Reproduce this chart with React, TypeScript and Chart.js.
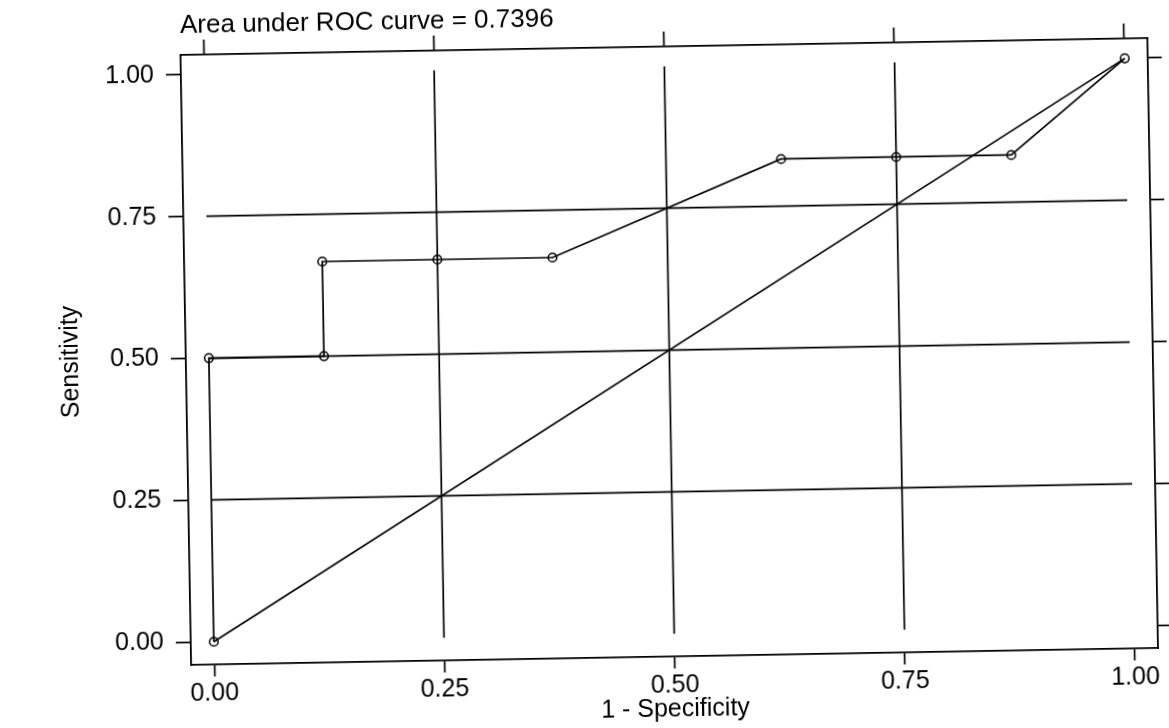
import { useEffect, useRef } from 'react';
import { Chart, registerables } from 'chart.js';

Chart.register(...registerables);

// ROC curve points (1 - specificity, sensitivity)
const oneMinusSpecificity = [0, 0, 0.125, 0.125, 0.25, 0.375, 0.625, 0.75, 0.875, 1];
const sensitivity = [0, 0.5, 0.5, 0.6667, 0.6667, 0.6667, 0.8333, 0.8333, 0.8333, 1];
// reference diagonal
const diagonalX = [0, 1];
const diagonalY = [0, 1];
// axis ticks and grid positions
const tickValues = [0, 0.25, 0.5, 0.75, 1];
const gridValues = [0.25, 0.5, 0.75];
const titleText = 'Area under ROC curve = 0.7396';
const xTitle = '1 - Specificity';
const yTitle = 'Sensitivity';

const FONT = "'Liberation Sans', Arial, Helvetica, sans-serif";
const INK = '#000000';

export default function App() {
  const ref = useRef<HTMLCanvasElement>(null);

  useEffect(() => {
    const canvas = ref.current;
    if (!canvas) return;

    const lineStyle = {
      borderColor: INK,
      borderWidth: 1.7,
      pointRadius: 0,
      showLine: true,
      fill: false,
      xAxisID: 'x',
      yAxisID: 'y',
    };

    const gridSets = [
      ...gridValues.map((v) => ({ data: [{ x: v, y: 0 }, { x: v, y: 1 }] })),
      ...gridValues.map((v) => ({ data: [{ x: 0, y: v }, { x: 1, y: v }] })),
    ].map((d) => ({ ...d, ...lineStyle }));

    const diagonal = {
      ...lineStyle,
      data: diagonalX.map((x, i) => ({ x, y: diagonalY[i] })),
    };

    const roc = {
      ...lineStyle,
      data: oneMinusSpecificity.map((x, i) => ({ x, y: sensitivity[i] })),
      pointRadius: 4.3,
      pointStyle: 'circle',
      pointBackgroundColor: 'rgba(0,0,0,0)',
      pointBorderColor: INK,
      pointBorderWidth: 1.5,
    };

    const xMin = -0.025;
    const xMax = 1.025;
    const yMin = -0.04;
    const yMax = 1.035;

    const setTicks = (s: any) => {
      s.ticks = tickValues.map((v) => ({ value: v }));
    };
    const font = { family: FONT, size: 25 };

    const titlePlugin = {
      id: 'stataTitle',
      afterDraw(chart: any) {
        const { ctx, chartArea } = chart;
        ctx.save();
        ctx.font = `26px ${FONT}`;
        ctx.fillStyle = INK;
        ctx.textAlign = 'left';
        ctx.textBaseline = 'alphabetic';
        ctx.fillText(titleText, chartArea.left, chartArea.top - 22);
        ctx.restore();
      },
    };
    const bgPlugin = {
      id: 'bg',
      beforeDraw(chart: any) {
        const { ctx, width, height } = chart;
        ctx.save();
        ctx.fillStyle = '#ffffff';
        ctx.fillRect(0, 0, width, height);
        ctx.restore();
      },
    };

    const chart = new Chart(canvas, {
      type: 'scatter',
      data: { datasets: [...gridSets, diagonal, roc] as any },
      plugins: [bgPlugin, titlePlugin],
      options: {
        responsive: false,
        animation: false,
        layout: { padding: 0 },
        plugins: { legend: { display: false }, tooltip: { enabled: false }, title: { display: false } },
        scales: {
          x: {
            type: 'linear',
            position: 'bottom',
            min: xMin,
            max: xMax,
            afterBuildTicks: setTicks,
            afterFit: (s: any) => { s.height = 70; },
            grid: { drawOnChartArea: false, drawTicks: true, tickLength: 12, tickColor: INK, tickWidth: 1.7 },
            border: { display: true, color: INK, width: 1.8 },
            ticks: {
              display: true,
              padding: 2,
              color: INK,
              font,
              maxRotation: 0,
              autoSkip: false,
              callback: (v: any) => Number(v).toFixed(2),
            },
            title: { display: true, text: xTitle, color: INK, font, padding: { top: 0, bottom: 2 } },
          },
          y: {
            type: 'linear',
            position: 'left',
            min: yMin,
            max: yMax,
            afterBuildTicks: setTicks,
            afterFit: (s: any) => { s.width = 186; },
            grid: { drawOnChartArea: false, drawTicks: true, tickLength: 15, tickColor: INK, tickWidth: 1.7 },
            border: { display: true, color: INK, width: 1.8 },
            ticks: {
              display: true,
              padding: 12,
              color: INK,
              font,
              autoSkip: false,
              callback: (v: any) => Number(v).toFixed(2),
            },
            title: { display: true, text: yTitle, color: INK, font, padding: { top: 56, bottom: 0 } },
          },
          x2: {
            type: 'linear',
            position: 'top',
            min: xMin,
            max: xMax,
            afterBuildTicks: setTicks,
            afterFit: (s: any) => { s.height = 48; },
            grid: { drawOnChartArea: false, drawTicks: true, tickLength: 15, tickColor: INK, tickWidth: 1.7 },
            border: { display: true, color: INK, width: 1.8 },
            ticks: { display: false },
          },
          y2: {
            type: 'linear',
            position: 'right',
            min: yMin,
            max: yMax,
            afterBuildTicks: setTicks,
            afterFit: (s: any) => { s.width = 16; },
            grid: { drawOnChartArea: false, drawTicks: true, tickLength: 14, tickColor: INK, tickWidth: 1.7 },
            border: { display: true, color: INK, width: 1.8 },
            ticks: { display: false },
          },
        },
      } as any,
    });

    return () => chart.destroy();
  }, []);

  return (
    <div
      style={{
        position: 'fixed',
        left: 0,
        top: 0,
        width: 1169,
        height: 728,
        transform: 'rotate(-1deg)',
        transformOrigin: '50% 50%',
        background: '#ffffff',
      }}
    >
      <canvas ref={ref} width={1169} height={728} style={{ display: 'block' }} />
    </div>
  );
}
